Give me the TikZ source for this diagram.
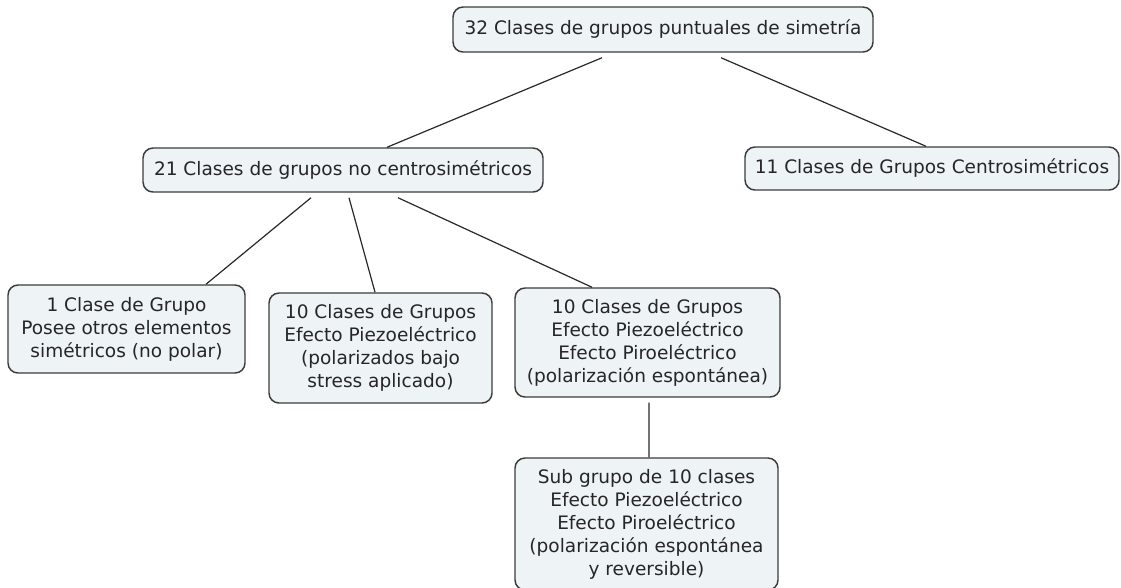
\documentclass[tikz,border=0pt]{standalone}
\usepackage{fontspec}
\setmainfont{DejaVu Sans}
\definecolor{boxfill}{RGB}{238,243,245}
\definecolor{boxline}{RGB}{60,60,60}
\definecolor{linkline}{RGB}{40,40,40}

\tikzset{
			box/.style={rectangle, rounded corners=7.5pt, draw=boxline, line width=1.1pt, fill=boxfill, align=center, inner sep=2pt, text=black!85, font=\fontsize{13.9}{17.25}\selectfont},
			link/.style={draw=linkline, line width=0.9pt}
		}

\begin{document}
\begin{tikzpicture}[x=0.75pt, y=-0.75pt]

			\useasboundingbox (0,0) rectangle (1121,587);

			% Define concept boxes
			\node[box, minimum width=315pt, minimum height=33.75pt] (top) at (663,29.5) {32 Clases de grupos puntuales de simetría};
			\node[box, minimum width=300pt, minimum height=33pt] (nc) at (343,170) {21 Clases de grupos no centrosimétricos};
			\node[box, minimum width=280.5pt, minimum height=32.25pt] (cs) at (932,168.5) {11 Clases de Grupos Centrosimétricos};
			\node[box, minimum width=177.75pt, minimum height=66pt] (np) at (126.5,329) {1 Clase de Grupo\\Posee otros elementos\\simétricos (no polar)};
			\node[box, minimum width=167.25pt, minimum height=82.5pt] (piezo) at (380.5,348) {10 Clases de Grupos\\Efecto Piezoeléctrico\\(polarizados bajo\\stress aplicado)};
			\node[box, minimum width=198.75pt, minimum height=81.75pt] (piro) at (647.5,342.5) {10 Clases de Grupos\\Efecto Piezoeléctrico\\Efecto Piroeléctrico\\(polarización espontánea)};
			\node[box, minimum width=197.25pt, minimum height=99pt] (sub) at (646.5,524) {Sub grupo de 10 clases\\Efecto Piezoeléctrico\\Efecto Piroeléctrico\\(polarización espontánea\\y reversible)};

			% Draw connecting lines
			\draw[link] ([xshift=-45.75pt, yshift=-3.75pt]top.south) -- ([xshift=33pt]nc.north);
			\draw[link] ([xshift=43.5pt, yshift=-3.75pt]top.south) -- ([xshift=-4.5pt]cs.north);
			\draw[link] ([xshift=-24pt, yshift=-3.75pt]nc.south) -- ([xshift=59.6pt]np.north);
			\draw[link] ([xshift=4.5pt, yshift=-3.75pt]nc.south) -- ([xshift=-4.1pt]piezo.north);
			\draw[link] ([xshift=41.25pt, yshift=-3.75pt]nc.south) -- ([xshift=-41.6pt]piro.north);
			\draw[link] ([xshift=1.1pt, yshift=-3.75pt]piro.south) -- ([xshift=1.9pt]sub.north);

		\end{tikzpicture}
\end{document}
